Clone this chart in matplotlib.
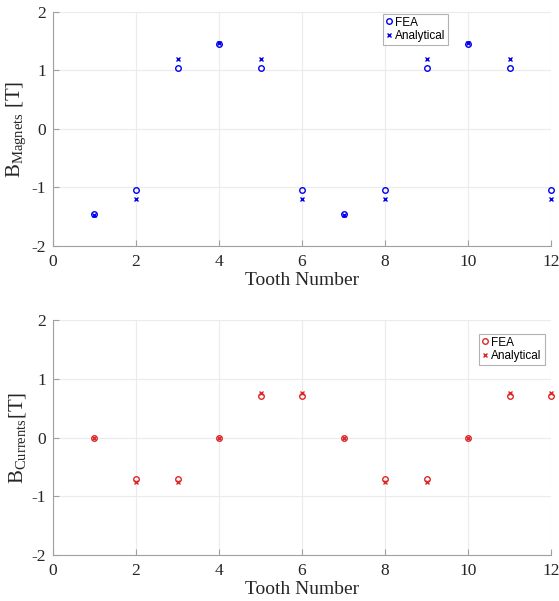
import matplotlib
matplotlib.use("Agg")
import matplotlib.pyplot as plt
import numpy as np

plt.rcParams['axes.unicode_minus'] = False

teeth = np.arange(1, 13)
mag_fea = [-1.45, -1.05, 1.05, 1.45, 1.05, -1.05, -1.45, -1.05, 1.05, 1.45, 1.05, -1.05]
mag_ana = [-1.47, -1.20, 1.20, 1.47, 1.20, -1.20, -1.47, -1.20, 1.20, 1.47, 1.20, -1.20]
cur_fea = [0.0, -0.70, -0.70, 0.0, 0.70, 0.70, 0.0, -0.70, -0.70, 0.0, 0.70, 0.70]
cur_ana = [0.0, -0.76, -0.76, 0.0, 0.76, 0.76, 0.0, -0.76, -0.76, 0.0, 0.76, 0.76]
xticks = [0, 2, 4, 6, 8, 10, 12]
yticks = [-2, -1, 0, 1, 2]

serif = ['Liberation Serif', 'DejaVu Serif']
sans = ['Liberation Sans', 'DejaVu Sans']

fig = plt.figure(figsize=(5.59, 6.01), dpi=100)
ax1 = fig.add_axes([0.0948, 0.591, 0.891, 0.389])
ax2 = fig.add_axes([0.0948, 0.0765, 0.891, 0.391])

def style(ax, ylabel):
    ax.set_xlim(0, 12)
    ax.set_ylim(-2, 2)
    ax.set_xticks(xticks)
    ax.set_yticks(yticks)
    ax.grid(True, color='#ebebeb', linewidth=0.8)
    ax.set_axisbelow(True)
    for s in ['top', 'right']:
        ax.spines[s].set_visible(False)
    for s in ['left', 'bottom']:
        ax.spines[s].set_color('#a0a0a0')
        ax.spines[s].set_linewidth(0.8)
    ax.tick_params(direction='in', length=4, color='#a0a0a0', labelsize=12.5, labelcolor='#262626')
    ax.tick_params(axis='x', pad=6)
    ax.tick_params(axis='y', pad=5)
    for lab in ax.get_xticklabels() + ax.get_yticklabels():
        lab.set_family(serif)
    ax.set_xlabel('Tooth Number', family=serif, fontsize=14, color='#262626', labelpad=1)
    ax.set_ylabel(ylabel, family=serif, fontsize=15, color='#262626', labelpad=2)

ax1.plot(teeth, mag_fea, 'o', mfc='none', mec='#0000ee', ms=4, mew=1.0, label='FEA', clip_on=False)
ax1.plot(teeth, mag_ana, 'x', color='#0000ee', ms=3.2, mew=1.0, label='Analytical', clip_on=False)
style(ax1, r'B$_{\mathregular{Magnets}}$ [T]')

ax2.plot(teeth, cur_fea, 'o', mfc='none', mec='#dd2828', ms=4, mew=1.0, label='FEA', clip_on=False)
ax2.plot(teeth, cur_ana, 'x', color='#dd2828', ms=3.2, mew=1.0, label='Analytical', clip_on=False)
style(ax2, r'B$_{\mathregular{Currents}}$[T]')

for ax, loc in [(ax1, (0.662, 0.86)), (ax2, (0.855, 0.81))]:
    leg = ax.legend(loc='lower left', bbox_to_anchor=loc, prop={'family': sans, 'size': 8.5},
                    frameon=True, fancybox=False, handlelength=0.5, handletextpad=0.3,
                    borderpad=0.25, labelspacing=0.1, borderaxespad=0)
    leg.get_frame().set_edgecolor('#a0a0a0')
    leg.get_frame().set_linewidth(0.8)

fig.savefig('out.png', dpi=100, facecolor='white')
